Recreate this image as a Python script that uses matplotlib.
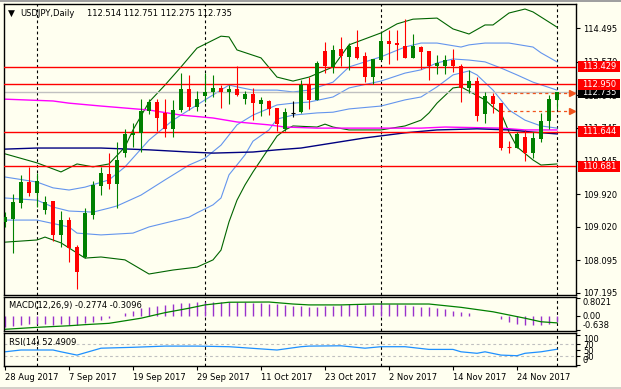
import matplotlib.pyplot as plt
import matplotlib.transforms as mtransforms
from matplotlib.patches import Rectangle

# USDJPY daily, 28 Aug 2017 .. 1 Dec 2017 (70 bars)
opens = [109.15, 109.23, 109.68, 110.25, 109.96, 109.48, 109.73, 108.79, 109.20, 108.46,
         108.17, 109.35, 110.15, 110.47, 110.20, 111.06, 111.55, 111.60, 112.21, 112.46,
         112.16, 111.71, 112.24, 112.81, 112.32, 112.62, 112.74, 112.85, 112.74, 112.83,
         112.54, 112.68, 112.41, 112.49, 112.30, 111.71, 112.15, 112.19, 112.94, 112.52,
         113.87, 113.43, 113.93, 113.71, 113.98, 113.73, 113.16, 113.62, 114.15, 114.09,
         114.01, 113.69, 113.98, 113.87, 113.46, 113.46, 113.62, 113.46, 112.85, 113.04,
         112.12, 112.63, 112.43, 111.23, 111.19, 111.50, 111.05, 111.45, 111.94, 112.514]
highs = [109.42, 109.92, 110.44, 110.67, 110.51, 109.86, 109.73, 109.45, 109.28, 108.51,
         109.53, 110.29, 110.67, 111.04, 111.36, 111.71, 111.89, 112.54, 112.54, 112.54,
         112.54, 112.52, 113.25, 113.21, 112.77, 113.25, 113.21, 112.93, 112.93, 113.45,
         112.77, 112.85, 112.61, 112.52, 112.30, 112.29, 112.49, 113.06, 113.14, 113.59,
         114.12, 114.04, 114.26, 114.09, 114.45, 113.84, 113.65, 114.36, 114.45, 114.45,
         114.75, 114.35, 114.01, 113.87, 113.76, 113.76, 113.93, 113.51, 113.35, 113.15,
         112.74, 112.71, 112.43, 111.38, 111.63, 111.70, 111.63, 112.16, 112.65, 112.751]
lows = [109.01, 108.29, 109.53, 109.87, 109.57, 109.37, 108.62, 108.46, 108.04, 107.30,
        108.14, 109.23, 109.90, 110.06, 109.54, 110.95, 111.21, 111.07, 112.13, 111.66,
        111.49, 111.50, 112.19, 112.24, 112.21, 112.46, 112.61, 112.30, 112.41, 112.63,
        112.41, 111.97, 112.08, 112.10, 111.66, 111.67, 112.04, 112.15, 112.28, 112.52,
        113.25, 113.25, 113.46, 113.35, 113.65, 113.01, 112.96, 113.62, 113.51, 113.62,
        113.69, 113.69, 113.38, 113.07, 113.23, 113.23, 113.29, 112.46, 112.71, 111.94,
        111.88, 112.16, 111.14, 111.06, 111.19, 110.84, 110.92, 111.37, 111.72, 112.275]
closes = [109.28, 109.70, 110.25, 109.96, 110.28, 109.70, 108.79, 109.20, 108.43, 107.77,
          109.40, 110.18, 110.50, 110.20, 110.86, 111.58, 111.60, 112.21, 112.46, 112.03,
          111.72, 112.24, 112.81, 112.32, 112.54, 112.74, 112.85, 112.74, 112.83, 112.65,
          112.68, 112.44, 112.52, 112.28, 111.86, 112.18, 112.15, 112.94, 112.52, 113.54,
          113.45, 113.90, 113.74, 114.01, 113.67, 113.16, 113.65, 114.15, 114.06, 114.04,
          113.69, 114.01, 113.84, 113.46, 113.54, 113.62, 113.46, 112.85, 113.04, 112.07,
          112.63, 112.41, 111.20, 111.23, 111.58, 111.05, 111.48, 111.94, 112.54, 112.735]
date_labels = ["28 Aug 2017", "7 Sep 2017", "19 Sep 2017", "29 Sep 2017", "11 Oct 2017",
               "23 Oct 2017", "2 Nov 2017", "14 Nov 2017", "24 Nov 2017"]
date_label_bars = [0, 8, 16, 24, 32, 40, 48, 56, 64]
month_start_bars = [4, 25, 47, 69]

# Bollinger(20, 2) - dark green
bb2_up_i = [0, 4, 7, 9, 11, 13, 15, 16, 18, 20, 22, 24, 27, 28, 29, 32, 34, 36, 38, 41, 43,
            47, 49, 51, 54, 56, 58, 60, 61, 63, 65, 66, 69]
bb2_up = [111.03, 110.78, 110.53, 110.75, 110.67, 110.75, 111.22, 111.69, 112.46, 112.93,
          113.43, 113.95, 114.28, 114.26, 113.90, 113.68, 113.15, 113.04, 113.15, 113.43,
          114.04, 114.37, 114.62, 114.75, 114.78, 114.48, 114.34, 114.59, 114.59, 114.92,
          115.03, 114.95, 114.53]
bb2_lo_i = [0, 4, 5, 7, 10, 12, 15, 18, 21, 24, 26, 27, 28, 29, 30, 31, 32, 33, 34, 35, 36,
            39, 40, 41, 43, 47, 50, 52, 53, 54, 56, 57, 60, 61, 62, 63, 64, 66, 67, 69]
bb2_lo = [108.59, 108.65, 108.73, 108.57, 108.15, 108.18, 108.10, 107.71, 107.82, 107.90,
          108.10, 108.37, 109.15, 109.75, 110.17, 110.53, 110.86, 111.19, 111.52, 111.69,
          111.80, 111.77, 111.85, 111.77, 111.69, 111.69, 111.80, 111.96, 112.16, 112.43,
          112.85, 112.88, 112.52, 112.32, 112.16, 111.63, 111.22, 110.86, 110.72, 110.75]
# Bollinger(20, 1) and middle line - light blue
bb1_up_i = [0, 4, 6, 8, 10, 13, 15, 18, 21, 25, 28, 29, 31, 34, 36, 38, 41, 43, 47, 50, 52,
            54, 57, 58, 60, 63, 66, 67, 69]
bb1_up = [110.39, 110.25, 110.09, 110.03, 110.11, 110.31, 110.67, 111.41, 111.96, 112.52,
          112.93, 112.88, 112.79, 112.79, 112.74, 112.79, 113.01, 113.43, 113.71, 113.98,
          114.09, 114.09, 113.98, 114.04, 114.09, 114.09, 113.98, 113.82, 113.57]
bb_mid_i = [0, 4, 6, 8, 11, 13, 14, 17, 20, 23, 25, 27, 29, 31, 34, 36, 38, 41, 43, 47, 50,
            52, 54, 56, 58, 60, 62, 64, 66, 69]
bb_mid = [109.81, 109.75, 109.56, 109.45, 109.42, 109.53, 109.59, 109.89, 110.31, 110.72,
          110.91, 111.27, 111.83, 112.10, 112.38, 112.43, 112.46, 112.60, 112.85, 113.04,
          113.26, 113.35, 113.54, 113.65, 113.62, 113.57, 113.40, 113.21, 113.01, 112.79]
bb1_lo_i = [0, 4, 8, 9, 12, 16, 18, 23, 24, 26, 27, 28, 30, 31, 33, 34, 36, 39, 41, 43, 47,
            50, 52, 54, 56, 58, 59, 61, 63, 65, 67, 69]
bb1_lo = [109.20, 109.20, 109.01, 108.84, 108.79, 108.84, 109.01, 109.28, 109.40, 109.62,
          109.81, 110.45, 111.00, 111.38, 111.69, 111.99, 112.10, 112.16, 112.18, 112.27,
          112.35, 112.52, 112.60, 112.88, 113.21, 113.32, 113.21, 112.79, 112.24, 111.96,
          111.80, 111.74]
# long moving averages
ma_magenta_i = [0, 6, 8, 12, 18, 22, 26, 29, 33, 35, 39, 47, 52, 55, 62, 65, 69]
ma_magenta = [112.54, 112.49, 112.43, 112.35, 112.24, 112.10, 112.02, 111.91, 111.83, 111.77,
              111.74, 111.74, 111.74, 111.77, 111.74, 111.69, 111.69]
ma_navy_i = [0, 4, 12, 18, 23, 26, 31, 34, 37, 41, 45, 50, 54, 59, 63, 66, 69]
ma_navy = [111.16, 111.19, 111.19, 111.14, 111.08, 111.05, 111.08, 111.14, 111.19, 111.33,
           111.47, 111.61, 111.69, 111.72, 111.69, 111.63, 111.58]

# horizontal levels
red_levels = [113.429, 112.950, 111.644, 110.681]
last_price = 112.735
arrow_levels = [112.71, 112.21]
arrow_start_bar = 62
price_ticks = [114.495, 113.570, 112.645, 111.745, 110.845, 109.920, 109.020, 108.095, 107.195]

# MACD(12,26,9)
macd_hist = [-0.48, -0.45, -0.41, -0.38, -0.38, -0.38, -0.39, -0.38, -0.39, -0.42,
             -0.33, -0.25, -0.18, -0.10, -0.02, 0.15, 0.24, 0.35, 0.42, 0.47,
             0.50, 0.53, 0.57, 0.60, 0.62, 0.63, 0.63, 0.63, 0.63, 0.62,
             0.62, 0.60, 0.58, 0.56, 0.53, 0.50, 0.45, 0.43, 0.42, 0.42,
             0.47, 0.47, 0.50, 0.53, 0.53, 0.50, 0.50, 0.57, 0.55, 0.53,
             0.50, 0.47, 0.42, 0.42, 0.35, 0.32, 0.24, 0.17, 0.12, 0.01,
             -0.02, 0.02, -0.15, -0.29, -0.36, -0.42, -0.42, -0.41, -0.38, -0.28]
macd_sig_i = [0, 4, 8, 10, 13, 17, 20, 23, 25, 28, 33, 36, 38, 42, 46, 53, 57, 61, 65, 67, 69]
macd_sig = [-0.60, -0.51, -0.44, -0.39, -0.33, -0.10, 0.15, 0.35, 0.50, 0.62, 0.63, 0.54,
            0.50, 0.50, 0.54, 0.54, 0.39, 0.19, -0.10, -0.26, -0.31]

# RSI(14)
rsi_i = [0, 2, 6, 7, 9, 12, 16, 20, 24, 28, 34, 37, 38, 42, 45, 47, 50, 53, 56, 57, 59, 60,
         62, 64, 65, 67, 69]
rsi = [44, 50, 50, 44, 33, 56, 59, 63, 63, 61, 50, 61, 63, 64, 56, 61, 61, 52, 52, 44, 39,
       44, 33, 31, 39, 44, 52.49]

W, H = 621, 389
BG = '#FFFFF0'
plt.rcParams.update({'font.family': 'DejaVu Sans', 'font.size': 6})
fig = plt.figure(figsize=(W / 100, H / 100), dpi=100, facecolor=BG)


def px_axes(x0, y0, x1, y1):
    a = fig.add_axes([x0 / W, 1 - y1 / H, (x1 - x0) / W, (y1 - y0) / H])
    a.set_facecolor(BG)
    a.set_xlim(-0.125, 71.375)
    for s in a.spines.values():
        s.set_linewidth(1.0)
        s.set_color('black')
    a.tick_params(axis='x', bottom=False, labelbottom=False)
    a.yaxis.tick_right()
    a.tick_params(axis='y', direction='out', length=3, width=0.8, pad=2, labelsize=6)
    return a


ax = px_axes(4, 4, 576, 295)
ax_macd = px_axes(4, 297, 576, 331)
ax_rsi = px_axes(4, 333, 576, 366)

ax.set_ylim(107.130, 115.169)
bars = range(len(opens))

# bands and averages
ax.plot(bb2_up_i, bb2_up, color='#006400', lw=0.8)
ax.plot(bb2_lo_i, bb2_lo, color='#006400', lw=0.8)
ax.plot(bb1_up_i, bb1_up, color='#6495ED', lw=0.8)
ax.plot(bb_mid_i, bb_mid, color='#6495ED', lw=0.8)
ax.plot(bb1_lo_i, bb1_lo, color='#6495ED', lw=0.8)
ax.plot(ma_magenta_i, ma_magenta, color='#FF00FF', lw=1.0)
ax.plot(ma_navy_i, ma_navy, color='#000080', lw=1.0)

# levels
for lv in red_levels:
    ax.axhline(lv, color='red', lw=1.0, zorder=3)
ax.axhline(last_price, color='#C0C0C0', lw=1.0, zorder=2)
for lv in arrow_levels:
    ax.hlines(lv, arrow_start_bar, len(opens) + 0.7, color='#F0541E', lw=0.9,
              linestyles=(0, (2.5, 2.5)), zorder=4)
    ax.plot(len(opens) + 0.9, lv, marker='>', color='#F0541E', ms=4, zorder=4)

# candles
for i in bars:
    o, h, l, c = opens[i], highs[i], lows[i], closes[i]
    if abs(c - o) < 0.005:
        col = 'black' if i < 50 else 'red'
        ax.vlines(i, l, h, color=col, lw=0.8, zorder=5)
        ax.hlines(o, i - 0.3, i + 0.3, color=col, lw=0.8, zorder=5)
        continue
    col = '#008000' if c > o else '#FF0000'
    ax.vlines(i, l, h, color=col, lw=0.8, zorder=5)
    ax.bar(i, abs(c - o), bottom=min(o, c), width=0.62, color=col, lw=0, zorder=6)

ax.set_yticks(price_ticks)
ax.set_yticklabels([f'{t:.3f}' for t in price_ticks])

# price boxes on the right scale
bt = mtransforms.blended_transform_factory(ax.transAxes, ax.transData)
box_h = 11 / 36.2
bx0, bw = 1 + 2 / 572, 42 / 572
ax.add_patch(Rectangle((bx0, last_price - box_h / 2), bw, box_h, transform=bt,
                       facecolor='black', edgecolor='none', clip_on=False, zorder=7))
ax.text(bx0 + bw / 2, last_price, f'{last_price:.3f}', transform=bt, color='white',
        ha='center', va='center', fontsize=6, zorder=8, clip_on=False)
for lv in red_levels:
    ax.add_patch(Rectangle((bx0, lv - box_h / 2), bw, box_h, transform=bt,
                           facecolor='#FF0000', edgecolor='none', clip_on=False, zorder=9))
    ax.text(bx0 + bw / 2, lv, f'{lv:.3f}', transform=bt, color='white',
            ha='center', va='center', fontsize=6, zorder=10, clip_on=False)

# MACD panel
ax_macd.set_ylim(-0.676, 0.856)
ax_macd.vlines(list(bars), 0, macd_hist, color='#9932CC', lw=1.0)
ax_macd.plot(macd_sig_i, macd_sig, color='#008000', lw=0.9)
ax_macd.set_yticks([0.8021, 0.0, -0.638])
ax_macd.set_yticklabels(['0.8021', '0.00', '-0.638'])
ml = ax_macd.get_yticklabels()
ml[0].set_va('top')
ml[2].set_va('bottom')
ax_macd.text(0.009, 0.75, 'MACD(12,26,9) -0.2774 -0.3096', transform=ax_macd.transAxes,
             fontsize=6, va='center')

# RSI panel
ax_rsi.set_ylim(-3.33, 106.67)
for lv in [70, 30]:
    ax_rsi.axhline(lv, color='#C0C0C0', lw=0.8, ls=(0, (2.5, 2.5)))
ax_rsi.plot(rsi_i, rsi, color='#1E90FF', lw=0.9)
ax_rsi.set_yticks([100, 70, 50, 30, 0])
ax_rsi.set_yticklabels(['100', '70', '50', '30', '0'])
rl = ax_rsi.get_yticklabels()
rl[0].set_va('top')
rl[4].set_va('bottom')
ax_rsi.text(0.009, 0.72, 'RSI(14) 52.4909', transform=ax_rsi.transAxes, fontsize=6,
            va='center')
ax_rsi.set_xticks(date_label_bars)
ax_rsi.set_xticklabels(date_labels, ha='left')
ax_rsi.tick_params(axis='x', bottom=True, labelbottom=True, direction='out', length=3,
                   width=0.8, pad=2, labelsize=6)

# month separators
for a in (ax, ax_macd, ax_rsi):
    for m in month_start_bars:
        a.axvline(m, color='black', lw=0.8, ls=(0, (2.5, 2.5)), zorder=1)

# header
fig.text(8 / W, 1 - 13 / H, '\u25bc', fontsize=6.5, va='center')
fig.text(20 / W, 1 - 13 / H, 'USDJPY,Daily', fontsize=6, va='center')
fig.text(87 / W, 1 - 13 / H, '112.514 112.751 112.275 112.735', fontsize=6, va='center')

# window frame
fig.patches.append(Rectangle((0, 1 - 2 / H), 1, 2 / H, transform=fig.transFigure,
                             facecolor='#A0A0A0', edgecolor='none'))
fig.patches.append(Rectangle((0, 0), 1, 2 / H, transform=fig.transFigure,
                             facecolor='#D4D0C8', edgecolor='none'))

fig.savefig('out.png', dpi=100, facecolor=BG)
